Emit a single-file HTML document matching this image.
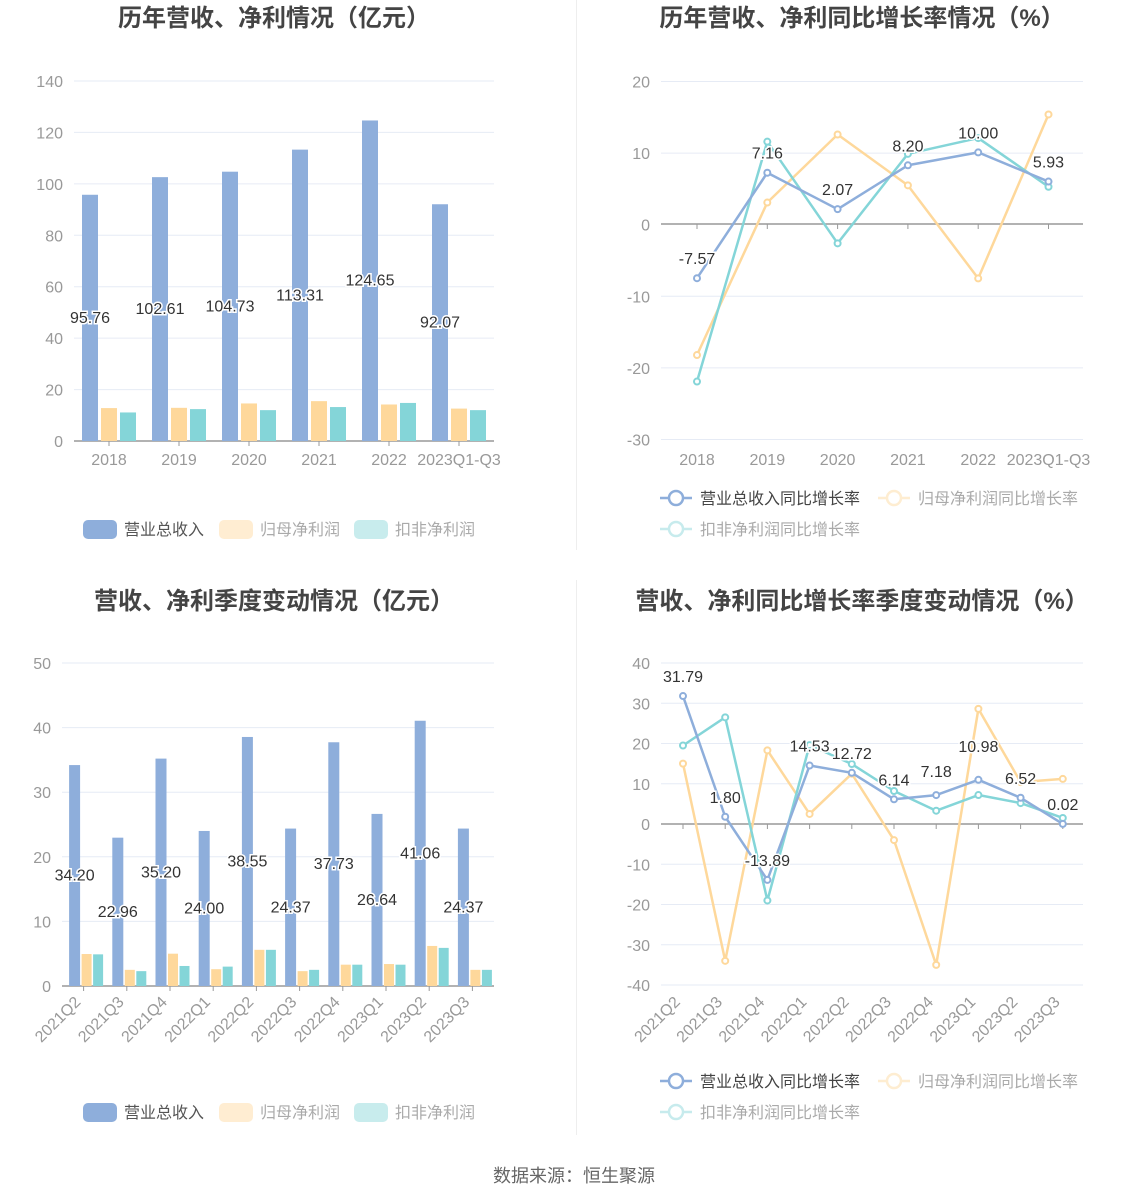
<!DOCTYPE html>
<html><head><meta charset="utf-8"><style>
body{margin:0;background:#fff;}
svg{display:block;font-family:"Liberation Sans","Noto Sans CJK SC",sans-serif;}
</style></head><body>
<svg id="s" width="1148" height="1202" xmlns="http://www.w3.org/2000/svg"></svg>
<script>
const S=document.getElementById('s');let h='';
const B='#8eaedb',O='#fed89b',T='#84d5d8',G='#e6ebf5';
function t(x,y,s,o){o=o||{};h+=`<text x="${x}" y="${y}" font-size="${o.fs||15}" fill="${o.c||'#888'}" text-anchor="${o.a||'middle'}" ${o.fw?'font-weight="bold"':''} ${o.tr?`transform="${o.tr}"`:''} ${o.halo?'stroke="#fff" stroke-width="3" paint-order="stroke"':''}>${s}</text>`;}
function line(x1,y1,x2,y2,c,w){h+=`<line x1="${x1}" y1="${y1}" x2="${x2}" y2="${y2}" stroke="${c}" stroke-width="${w||1}"/>`;}
line(576.5,0,576.5,550,'#eee');line(576.5,580,576.5,1135,'#eee');
t(274,26,'历年营收、净利情况（亿元）',{fs:24,c:'#444',fw:1});
t(862,26,'历年营收、净利同比增长率情况（%）',{fs:24,c:'#444',fw:1});
t(274,609,'营收、净利季度变动情况（亿元）',{fs:24,c:'#444',fw:1});
t(862,609,'营收、净利同比增长率季度变动情况（%）',{fs:24,c:'#444',fw:1});
t(574,1182,'数据来源：恒生聚源',{fs:18,c:'#666'});
function axes(x0,x1,ymin,ymax,step,ytop,ybot,zeroY){
  for(let v=ymin;v<=ymax;v+=step){const y=ybot-(v-ymin)/(ymax-ymin)*(ybot-ytop);
    if(v!==0)line(x0,y,x1,y,G);t(x0-11,y+6,v,{a:'end',fs:16,c:'#999'});}
  line(x0,zeroY,x1,zeroY,'#999',1.5);
}
(function(){const x0=74,x1=494,y0=441,k=(441-81)/140;axes(x0,x1,0,140,20,81,441,441);
const cats=['2018','2019','2020','2021','2022','2023Q1-Q3'];const rv=[95.76,102.61,104.73,113.31,124.65,92.07];
const on=[12.8,12.9,14.6,15.5,14.2,12.6],tn=[11.1,12.4,12,13.2,14.8,12];
cats.forEach((c,i)=>{const cx=109+i*70;line(cx,441,cx,446,'#999');
h+=`<rect x="${cx-27}" y="${y0-rv[i]*k}" width="16" height="${rv[i]*k}" fill="${B}"/>`;
h+=`<rect x="${cx-8}" y="${y0-on[i]*k}" width="16" height="${on[i]*k}" fill="${O}"/>`;
h+=`<rect x="${cx+11}" y="${y0-tn[i]*k}" width="16" height="${tn[i]*k}" fill="${T}"/>`;
t(cx,465,c,{fs:16,c:'#999'});});
cats.forEach((c,i)=>{const cx=109+i*70;t(cx-19,y0-rv[i]*k/2+5,rv[i].toFixed(2),{fs:16,c:'#333',halo:1});});
})();
(function(){const x0=62,x1=494,y0=986,k=(986-663)/50;axes(x0,x1,0,50,10,663,986,986);
const cats=['2021Q2','2021Q3','2021Q4','2022Q1','2022Q2','2022Q3','2022Q4','2023Q1','2023Q2','2023Q3'];
const rv=[34.20,22.96,35.20,24.00,38.55,24.37,37.73,26.64,41.06,24.37];
const on=[4.95,2.5,5.0,2.6,5.6,2.3,3.3,3.4,6.2,2.5],tn=[4.9,2.3,3.1,3.0,5.6,2.5,3.3,3.3,5.9,2.5];
cats.forEach((c,i)=>{const cx=83.6+i*43.2;line(cx,986,cx,991,'#999');
h+=`<rect x="${cx-14.5}" y="${y0-rv[i]*k}" width="11" height="${rv[i]*k}" fill="${B}"/>`;
h+=`<rect x="${cx-2}" y="${y0-on[i]*k}" width="10" height="${on[i]*k}" fill="${O}"/>`;
h+=`<rect x="${cx+9.5}" y="${y0-tn[i]*k}" width="10" height="${tn[i]*k}" fill="${T}"/>`;
t(cx-2,1003,c,{a:'end',fs:16,c:'#999',tr:`rotate(-45 ${cx-2} 1003)`});});
cats.forEach((c,i)=>{const cx=83.6+i*43.2;t(cx-9,y0-rv[i]*k/2+5,rv[i].toFixed(2),{fs:16,c:'#333',halo:1});});
})();
function lines(xs,yf,series,labels,lblOff){
 series.forEach(([c,d])=>{h+=`<polyline fill="none" stroke="${c}" stroke-width="2.5" stroke-linejoin="round" points="${d.map((v,i)=>xs[i]+','+yf(v)).join(' ')}"/>`;
 d.forEach((v,i)=>{h+=`<circle cx="${xs[i]}" cy="${yf(v)}" r="3" fill="#fff" stroke="${c}" stroke-width="2"/>`;});});
 labels.forEach((v,i)=>t(xs[i],yf(v)-14+(lblOff?lblOff[i]:0),v.toFixed(2),{fs:16,c:'#333',halo:1}));
}
(function(){const x0=661,x1=1083;const yf=v=>224-v*7.16;
axes(x0,x1,-30,20,10,81.5,439.5,224);
const cats=['2018','2019','2020','2021','2022','2023Q1-Q3'];const xs=cats.map((c,i)=>697+i*70.3);
cats.forEach((c,i)=>{line(xs[i],224,xs[i],229,'#999');t(xs[i],465,c,{fs:16,c:'#999'});});
const b=[-7.57,7.16,2.07,8.20,10.00,5.93];
lines(xs,yf,[[O,[-18.3,3,12.5,5.4,-7.6,15.3]],[T,[-22,11.5,-2.7,9.8,12,5.2]],[B,b]],b);
})();
(function(){const x0=661,x1=1083;const yf=v=>824-v*4.025;
axes(x0,x1,-40,40,10,663,985,824);
const cats=['2021Q2','2021Q3','2021Q4','2022Q1','2022Q2','2022Q3','2022Q4','2023Q1','2023Q2','2023Q3'];
const xs=cats.map((c,i)=>683+i*42.2);
cats.forEach((c,i)=>{line(xs[i],824,xs[i],829,'#999');t(xs[i]-2,1003,c,{a:'end',fs:16,c:'#999',tr:`rotate(-45 ${xs[i]-2} 1003)`});});
const b=[31.79,1.80,-13.89,14.53,12.72,6.14,7.18,10.98,6.52,0.02];
lines(xs,yf,[[O,[15,-34,18.3,2.5,12.5,-4,-35,28.6,10.4,11.2]],[T,[19.5,26.5,-19,19.6,14.9,8.2,3.3,7.2,5.2,1.5]],[B,b]],b,[0,0,0,0,0,0,-4,-14,0,0]);
})();
function barLeg(y){const it=[[B,'营业总收入','#555'],[O,'归母净利润','#aaa'],[T,'扣非净利润','#aaa']];const xs=[83,219,354];
 it.forEach((a,i)=>{h+=`<rect x="${xs[i]}" y="${y-9}" width="34" height="19" rx="5" fill="${a[0]}" ${i?'opacity="0.45"':''}/>`;t(xs[i]+41,y+6,a[1],{a:'start',fs:16,c:a[2]});});}
function lineLeg(y){const it=[[660,y,B,'营业总收入同比增长率','#444',1],[878,y,O,'归母净利润同比增长率','#aaa',.45],[660,y+31,T,'扣非净利润同比增长率','#aaa',.45]];
 it.forEach(a=>{h+=`<g opacity="${a[5]}"><line x1="${a[0]}" y1="${a[1]}" x2="${a[0]+32}" y2="${a[1]}" stroke="${a[2]}" stroke-width="2.5"/><circle cx="${a[0]+16}" cy="${a[1]}" r="7" fill="#fff" stroke="${a[2]}" stroke-width="2.5"/></g>`;t(a[0]+40,a[1]+6,a[3],{a:'start',fs:16,c:a[4]});});}
barLeg(529);barLeg(1112);lineLeg(498);lineLeg(1081);
S.innerHTML=h;
</script>
</body></html>
